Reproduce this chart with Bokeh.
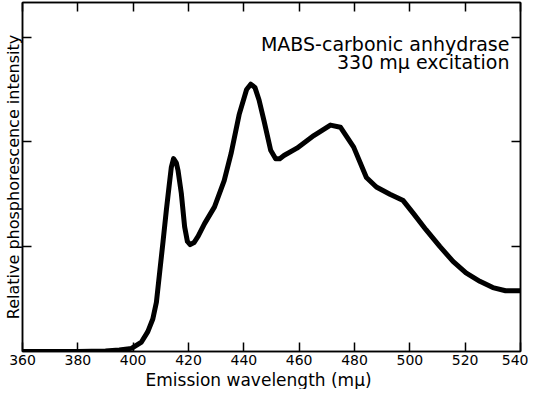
from bokeh.plotting import figure
from bokeh.models import LinearAxis, FixedTicker, Range1d, Label, Title
from bokeh.embed import file_html
from bokeh.resources import INLINE

# Emission spectrum (wavelength in m-mu, relative intensity in tick units)
wavelength = [360, 380, 390, 395, 399.4, 403.0, 405.3, 407.1, 408.4, 409.6, 410.8,
              412.0, 413.0, 413.8, 414.6, 415.6, 416.2, 417.4, 418.6, 419.6, 420.6,
              422.0, 423.5, 425.8, 429.4, 432.9, 435.4, 438.3, 441.0, 442.5, 444.0,
              445.5, 447.3, 449.7, 451.5, 453.0, 454.5, 459.2, 465.3, 471.3, 474.9,
              479.7, 484.3, 487.9, 492.8, 497.6, 501.2, 505.9, 510.9, 515.6, 520.3,
              525.3, 530.0, 534.6, 540]
intensity = [0.0, 0.0, 0.005, 0.015, 0.03, 0.09, 0.19, 0.31, 0.47, 0.76, 1.05,
             1.35, 1.58, 1.76, 1.84, 1.80, 1.73, 1.51, 1.19, 1.05, 1.02,
             1.04, 1.10, 1.22, 1.38, 1.63, 1.89, 2.26, 2.50, 2.55, 2.52,
             2.40, 2.20, 1.92, 1.84, 1.84, 1.87, 1.94, 2.06, 2.16, 2.14,
             1.95, 1.66, 1.57, 1.50, 1.44, 1.32, 1.16, 1.00, 0.86, 0.75,
             0.67, 0.61, 0.58, 0.58]

x_ticks = [360, 380, 400, 420, 440, 460, 480, 500, 520, 540]
y_ticks = [1, 2, 3]
x_label = "Emission wavelength (m\u03bc)"
y_label = "Relative phosphorescence intensity"
note_1 = "MABS-carbonic anhydrase"
note_2 = "330 m\u03bc excitation"

FONT = "DejaVu Sans"

p = figure(width=528, height=389, output_backend="svg", toolbar_location=None,
           x_range=Range1d(360, 540), y_range=Range1d(0, 3.33),
           min_border_left=19, min_border_right=8, min_border_top=2,
           min_border_bottom=0)
p.background_fill_color = "white"
p.border_fill_color = "white"
p.xgrid.visible = False
p.ygrid.visible = False
p.outline_line_color = "black"
p.outline_line_width = 1.5

p.line(wavelength, intensity, line_color="black", line_width=5,
       line_join="round", line_cap="round")

def style_axis(ax, labels):
    ax.axis_line_color = "black"
    ax.axis_line_width = 1.5
    ax.major_tick_line_color = "black"
    ax.major_tick_line_width = 1.5
    ax.major_tick_in = 9
    ax.major_tick_out = 0
    ax.minor_tick_line_color = None
    if not labels:
        ax.major_label_text_font_size = "0px"
        ax.major_label_text_color = None
        ax.major_label_standoff = 0

# bottom axis (tick labels); its title is set below as a Title
xb = p.xaxis[0]
xb.ticker = FixedTicker(ticks=x_ticks)
style_axis(xb, True)
xb.major_label_text_font = FONT
xb.major_label_text_font_size = "14px"
xb.major_label_text_color = "black"
xb.major_label_standoff = 3

p.add_layout(Title(text=x_label, align="left", offset=123, standoff=0,
                   text_font=FONT, text_font_size="17px",
                   text_font_style="normal", text_color="black"), "below")

# left axis
yl = p.yaxis[0]
yl.ticker = FixedTicker(ticks=y_ticks)
style_axis(yl, False)
yl.axis_label = y_label
yl.axis_label_text_font = FONT
yl.axis_label_text_font_size = "16px"
yl.axis_label_text_font_style = "normal"
yl.axis_label_text_color = "black"
yl.axis_label_standoff = 0

# top and right axes: ticks only
xt = LinearAxis(ticker=FixedTicker(ticks=x_ticks))
style_axis(xt, False)
p.add_layout(xt, "above")
yr = LinearAxis(ticker=FixedTicker(ticks=y_ticks))
style_axis(yr, False)
p.add_layout(yr, "right")

# annotation
p.add_layout(Label(x=536, y=2.93, text=note_1, text_align="right",
                   text_baseline="alphabetic",
                   text_font=FONT, text_font_size="19px", text_color="black"))
p.add_layout(Label(x=536, y=2.76, text=note_2, text_align="right",
                   text_baseline="alphabetic",
                   text_font=FONT, text_font_size="19px", text_color="black"))

open("out.html", "w").write(file_html(p, INLINE))
